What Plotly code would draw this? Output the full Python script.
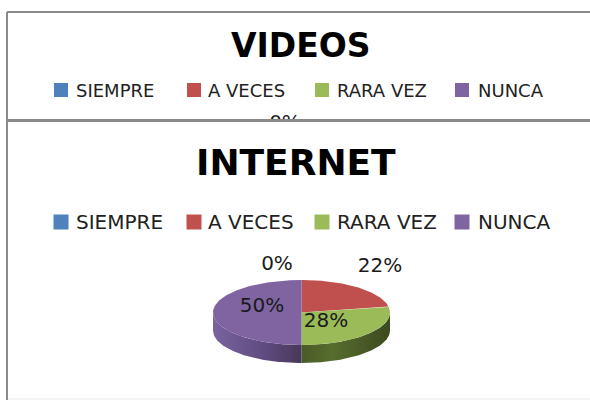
import numpy as np
import plotly.graph_objects as go

# ---- data ----
categories = ["SIEMPRE", "A VECES", "RARA VEZ", "NUNCA"]
internet_values = [0, 22, 28, 50]
internet_labels = ["0%", "22%", "28%", "50%"]
videos_first_label = "0%"
colors = ["#4F81BD", "#C0504D", "#9BBB59", "#8064A2"]
side_colors = {
    2: [[0, "#4A5B27"], [0.35, "#566D2E"], [1, "#3C4A20"]],
    3: [[0, "#7A63A0"], [0.6, "#5E4A7E"], [1, "#483859"]],
}

# ---- layout geometry (pixel space) ----
W, H = 590, 400
cx, cy, rx, ry, depth = 301.5, 312.5, 88.5, 32.5, 18
label_pos = [(277, 265), (380, 267), (326, 322), (262, 307)]
legend_sq_x = [61, 194, 322, 462]
legend_tx_x = [74, 206, 335, 476]
FONT = "DejaVu Sans"

fig = go.Figure()

def pt(theta_deg, dy=0.0):
    t = np.radians(theta_deg)
    return cx + rx * np.sin(t), cy - ry * np.cos(t) + dy

total = sum(internet_values)
starts = np.cumsum([0] + internet_values[:-1]) / total * 360
ends = np.cumsum(internet_values) / total * 360

# side walls (front half: 90..270 deg)
for i, (a0, a1) in enumerate(zip(starts, ends)):
    s0, s1 = max(a0, 90), min(a1, 270)
    if s1 <= s0:
        continue
    th = np.linspace(s0, s1, 80)
    xt, yt = pt(th)
    xb, yb = pt(th[::-1], depth)
    xs = np.concatenate([xt, xb, xt[:1]])
    ys = np.concatenate([yt, yb, yt[:1]])
    kw = {}
    if i in side_colors:
        kw["fillgradient"] = dict(type="horizontal", colorscale=side_colors[i])
    fig.add_trace(go.Scatter(x=xs, y=ys, mode="lines", fill="toself",
                             fillcolor=colors[i], line=dict(width=0),
                             showlegend=False, hoverinfo="skip", **kw))

# top faces
for i, (a0, a1) in enumerate(zip(starts, ends)):
    if a1 - a0 <= 0:
        continue
    th = np.linspace(a0, a1, 120)
    xe, ye = pt(th)
    xs = np.concatenate([[cx], xe, [cx]])
    ys = np.concatenate([[cy], ye, [cy]])
    fig.add_trace(go.Scatter(x=xs, y=ys, mode="lines", fill="toself",
                             fillcolor=colors[i], line=dict(width=0),
                             name=categories[i], showlegend=False, hoverinfo="skip"))

# data labels
fig.add_trace(go.Scatter(x=[p[0] for p in label_pos], y=[p[1] for p in label_pos],
                         mode="text", text=internet_labels,
                         textfont=dict(family=FONT, size=20, color="#1a1a1a"),
                         showlegend=False, hoverinfo="skip"))

# legend swatches (both charts)
for legend_y, sq_h in [(222, 15), (90, 14)]:
    fig.add_trace(go.Scatter(x=legend_sq_x, y=[legend_y] * 4, mode="markers",
                             marker=dict(symbol="square", size=sq_h, color=colors,
                                         line=dict(width=0)),
                             showlegend=False, hoverinfo="skip"))

# VIDEOS partial label, clipped by the top chart area
fig.add_trace(go.Scatter(x=[285], y=[124], mode="text", text=[videos_first_label],
                         textfont=dict(family=FONT, size=20, color="#1a1a1a"),
                         xaxis="x2", yaxis="y2", cliponaxis=True,
                         showlegend=False, hoverinfo="skip"))

annotations = [
    dict(text="<b>VIDEOS</b>", x=301, y=45, xref="x", yref="y",
         xanchor="center", yanchor="middle", showarrow=False,
         font=dict(family=FONT, size=33, color="black")),
    dict(text="<b>INTERNET</b>", x=296, y=162, xref="x", yref="y",
         xanchor="center", yanchor="middle", showarrow=False,
         font=dict(family=FONT, size=36, color="black")),
]
for ly, fs in [(222, 20), (90, 18)]:
    for c, tx in zip(categories, legend_tx_x):
        annotations.append(dict(text=c, x=tx, y=ly, xref="x", yref="y",
                                xanchor="left", yanchor="middle", showarrow=False,
                                font=dict(family=FONT, size=fs, color="#222")))

fig.update_layout(
    width=W, height=H, autosize=False,
    margin=dict(l=0, r=0, t=0, b=0),
    paper_bgcolor="white", plot_bgcolor="rgba(0,0,0,0)",
    showlegend=False,
    xaxis=dict(range=[0, W], visible=False, domain=[0, 1], fixedrange=True),
    yaxis=dict(range=[H, 0], visible=False, domain=[0, 1], fixedrange=True),
    xaxis2=dict(range=[0, W], visible=False, domain=[0, 1], anchor="y2", fixedrange=True),
    yaxis2=dict(range=[119, 0], visible=False, domain=[1 - 119 / H, 1], anchor="x2",
                fixedrange=True),
    annotations=annotations,
    shapes=[
        dict(type="line", xref="x", yref="y", x0=7, x1=W, y0=12, y1=12,
             line=dict(color="#8a8a8a", width=2), layer="above"),
        dict(type="line", xref="x", yref="y", x0=7, x1=W, y0=120.5, y1=120.5,
             line=dict(color="#8a8a8a", width=3), layer="above"),
        dict(type="line", xref="x", yref="y", x0=7, x1=7, y0=12, y1=H,
             line=dict(color="#8a8a8a", width=2), layer="above"),
        dict(type="line", xref="x", yref="y", x0=8, x1=W, y0=399, y1=399,
             line=dict(color="#e6e6e6", width=1), layer="above"),
    ],
)

fig.write_html("out.html", config={"displayModeBar": False},
               post_script="document.body.style.margin='0';")
